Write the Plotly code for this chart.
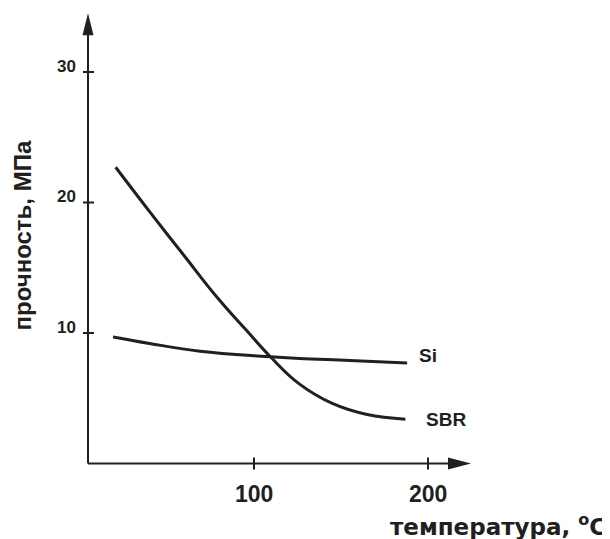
import plotly.graph_objects as go

# curve data (temperature in C, strength in MPa)
sbr_temp = [20.5, 40, 60, 79, 95, 110, 126, 145, 165, 187]
sbr_strength = [22.7, 19.3, 15.9, 12.7, 10.3, 8.1, 6.1, 4.6, 3.75, 3.4]

si_temp = [19, 40, 69, 107, 126, 155, 188]
si_strength = [9.7, 9.2, 8.6, 8.2, 8.05, 7.9, 7.7]

x_ticks = [100, 200]
y_ticks = [10, 20, 30]

INK = "#231f20"
FONT = "Liberation Sans, Arial, sans-serif"
WIDE_FONT = "DejaVu Sans, Liberation Sans, sans-serif"

# page has an 8px body margin, so the figure is a bit smaller than the window
W, H = 602, 531
px_x, px_y = 1.74, 13.05          # pixels per unit
org_x, org_y = 80 - 8, 463.5 - 8  # pixel position of (0, 0) inside the figure
x_range = [-org_x / px_x, (W - org_x) / px_x]
y_range = [(org_y - H) / px_y, org_y / px_y]

x_start = 4.6     # where the y axis stands
x_end = 224.7     # arrow tip of the x axis
y_end = 34.5      # arrow tip of the y axis

fig = go.Figure()

fig.add_trace(go.Scatter(x=sbr_temp, y=sbr_strength, mode="lines",
                         line=dict(color=INK, width=3, shape="spline", smoothing=1.2),
                         hoverinfo="skip"))
fig.add_trace(go.Scatter(x=si_temp, y=si_strength, mode="lines",
                         line=dict(color=INK, width=3, shape="spline", smoothing=1.2),
                         hoverinfo="skip"))

shapes = []
# axes
shapes.append(dict(type="line", x0=x_start, y0=0, x1=x_end - 10, y1=0,
                   line=dict(color=INK, width=2)))
shapes.append(dict(type="line", x0=x_start, y0=0, x1=x_start, y1=y_end - 1,
                   line=dict(color=INK, width=2)))
# arrowheads
shapes.append(dict(type="path", xsizemode="pixel", ysizemode="pixel",
                   xanchor=x_end, yanchor=0,
                   path="M 0 0 L -23 6 L -23 -6 Z",
                   fillcolor=INK, line=dict(width=0)))
shapes.append(dict(type="path", xsizemode="pixel", ysizemode="pixel",
                   xanchor=x_start, yanchor=y_end,
                   path="M 0 0 L -5.5 -22 L 5.5 -22 Z",
                   fillcolor=INK, line=dict(width=0)))
# crossing ticks
for t in x_ticks:
    shapes.append(dict(type="line", ysizemode="pixel", yanchor=0,
                       x0=t, x1=t, y0=-6, y1=6,
                       line=dict(color=INK, width=2)))
for t in y_ticks:
    shapes.append(dict(type="line", xsizemode="pixel", xanchor=x_start,
                       x0=-5, x1=6, y0=t, y1=t,
                       line=dict(color=INK, width=2)))

annotations = []
for t in x_ticks:
    annotations.append(dict(x=t, y=0, text="<b>%d</b>" % t, showarrow=False,
                            yshift=-30, font=dict(family=FONT, size=23, color=INK)))
for t in y_ticks:
    annotations.append(dict(x=x_start, y=t, text="<b>%d</b>" % t, showarrow=False,
                            xanchor="right", xshift=-10, yshift=6,
                            font=dict(family=FONT, size=17, color=INK)))

annotations.append(dict(x=1, y=0, xref="paper", yref="paper", xanchor="right",
                        yanchor="bottom", xshift=-2, yshift=-3,
                        text="<b>температура, <sup>o</sup>C</b>", showarrow=False,
                        font=dict(family=WIDE_FONT, size=23, color=INK)))
annotations.append(dict(x=0, y=(org_y - 236 + 8) / px_y, xref="paper", yref="y",
                        xanchor="left", text="<b>прочность, МПа</b>", showarrow=False,
                        textangle=-90, xshift=-2,
                        font=dict(family=FONT, size=24, color=INK)))

annotations.append(dict(x=si_temp[-1], y=si_strength[-1], text="<b>Si</b>", showarrow=False,
                        xanchor="left", xshift=10, yshift=8,
                        font=dict(family=FONT, size=19, color=INK)))
annotations.append(dict(x=sbr_temp[-1], y=sbr_strength[-1], text="<b>SBR</b>", showarrow=False,
                        xanchor="left", xshift=19, yshift=0,
                        font=dict(family=FONT, size=19, color=INK)))

fig.update_layout(
    width=W, height=H,
    margin=dict(l=0, r=0, t=0, b=0),
    paper_bgcolor="white", plot_bgcolor="white",
    showlegend=False,
    xaxis=dict(range=x_range, visible=False),
    yaxis=dict(range=y_range, visible=False),
    shapes=shapes,
    annotations=annotations,
)

fig.write_html("out.html")
